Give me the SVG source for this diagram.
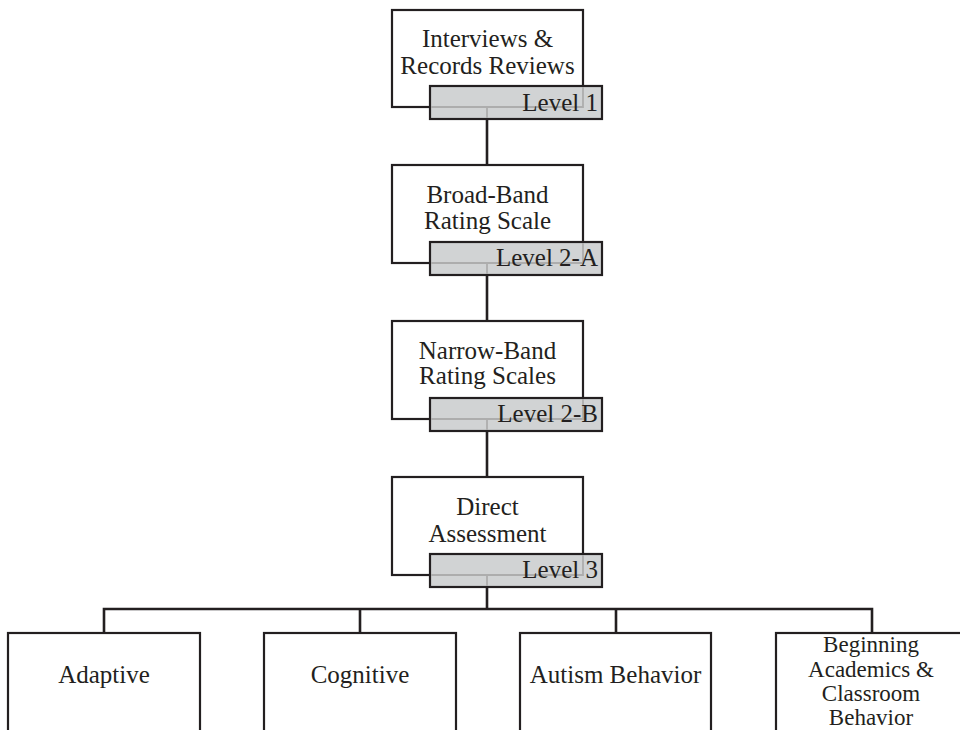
<svg xmlns="http://www.w3.org/2000/svg" width="960" height="730" viewBox="0 0 960 730">
<style>
.box{fill:#fff;stroke:#231f20;stroke-width:2.2}
.tag{fill:#d1d3d4;stroke:#231f20;stroke-width:2.2}
.ghost{fill:none;stroke:#adadad;stroke-width:1.8}
.conn{fill:none;stroke:#231f20;stroke-width:2.6}
text{font-family:"Liberation Serif","Times New Roman",serif;font-size:25px;fill:#231f20}
.c{text-anchor:middle}
.lv{text-anchor:end}
.sm{font-size:23px}
</style>
<rect width="960" height="730" fill="#fff"/>
<g id="connectors">
<line class="conn" x1="487" y1="107" x2="487" y2="165"/>
<line class="conn" x1="487" y1="263" x2="487" y2="321"/>
<line class="conn" x1="487" y1="419" x2="487" y2="477"/>
<line class="conn" x1="487" y1="575" x2="487" y2="609"/>
<polyline class="conn" points="104,633 104,609 872,609 872,633"/>
<line class="conn" x1="360" y1="609" x2="360" y2="633"/>
<line class="conn" x1="616" y1="609" x2="616" y2="633"/>
</g>
<g id="level1">
<rect class="box" x="392" y="10" width="191" height="97"/>
<rect class="tag" x="430" y="86" width="172" height="33"/>
<polyline class="ghost" points="431,107 583,107 583,87"/>
<line class="ghost" x1="487" y1="107" x2="487" y2="118"/>
<text class="c" x="487.5" y="47">Interviews &amp;</text>
<text class="c" x="487.5" y="74">Records Reviews</text>
<text class="lv" x="598" y="111">Level 1</text>
</g>
<g id="level2a">
<rect class="box" x="392" y="165" width="191" height="98"/>
<rect class="tag" x="430" y="242" width="172" height="33"/>
<polyline class="ghost" points="431,263 583,263 583,243"/>
<line class="ghost" x1="487" y1="263" x2="487" y2="274"/>
<text class="c" x="487.5" y="203">Broad-Band</text>
<text class="c" x="487.5" y="229">Rating Scale</text>
<text class="lv" x="598" y="266">Level 2-A</text>
</g>
<g id="level2b">
<rect class="box" x="392" y="321" width="191" height="98"/>
<rect class="tag" x="430" y="398" width="172" height="33"/>
<polyline class="ghost" points="431,419 583,419 583,399"/>
<line class="ghost" x1="487" y1="419" x2="487" y2="430"/>
<text class="c" x="487.5" y="359">Narrow-Band</text>
<text class="c" x="487.5" y="384">Rating Scales</text>
<text class="lv" x="598" y="422">Level 2-B</text>
</g>
<g id="level3">
<rect class="box" x="392" y="477" width="191" height="98"/>
<rect class="tag" x="430" y="554" width="172" height="33"/>
<polyline class="ghost" points="431,575 583,575 583,555"/>
<line class="ghost" x1="487" y1="575" x2="487" y2="586"/>
<text class="c" x="487.5" y="515">Direct</text>
<text class="c" x="487.5" y="542">Assessment</text>
<text class="lv" x="598" y="578">Level 3</text>
</g>
<g id="adaptive">
<rect class="box" x="8" y="633" width="192" height="120"/>
<text class="c" x="104" y="683">Adaptive</text>
</g>
<g id="cognitive">
<rect class="box" x="264" y="633" width="192" height="120"/>
<text class="c" x="360" y="683">Cognitive</text>
</g>
<g id="autism">
<rect class="box" x="520" y="633" width="191" height="120"/>
<text class="c" x="615.5" y="683">Autism Behavior</text>
</g>
<g id="beginning">
<rect class="box" x="776" y="633" width="192" height="120"/>
<text class="c sm" x="871" y="652">Beginning</text>
<text class="c sm" x="871" y="677">Academics &amp;</text>
<text class="c sm" x="871" y="701">Classroom</text>
<text class="c sm" x="871" y="725">Behavior</text>
</g>
</svg>
